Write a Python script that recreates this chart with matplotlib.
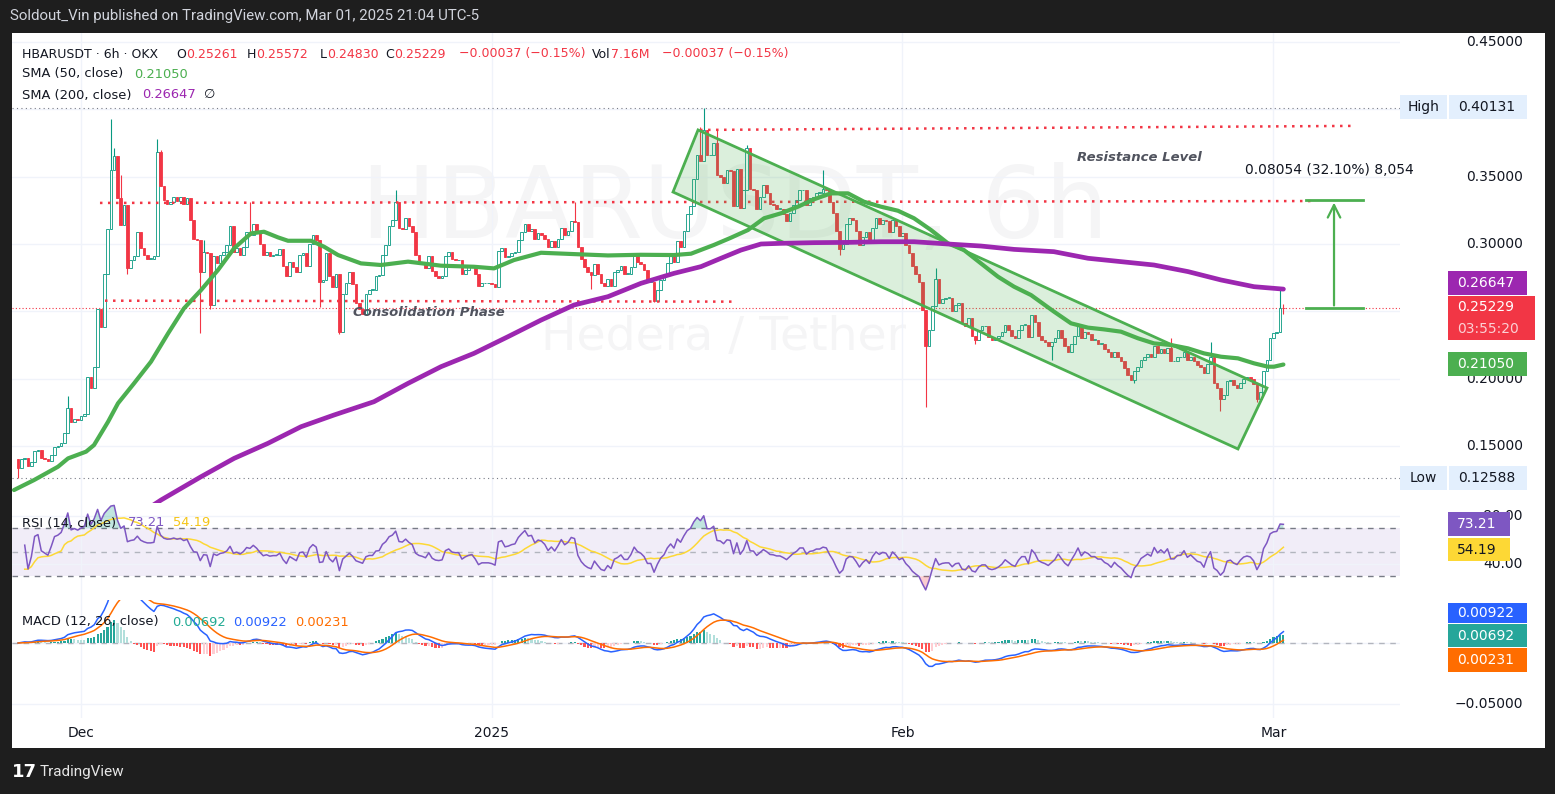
import numpy as np
import pandas as pd
import matplotlib
matplotlib.use("Agg")
import matplotlib.pyplot as plt
from matplotlib.patches import Rectangle, Polygon

plt.rcParams['font.family'] = ['DejaVu Sans']

W, H, DPI = 1555, 794, 100

# ------------------------------------------------------------------ data
# 6h closes, HBAR/USDT (OKX), oldest -> newest
closes_nov_dec = [
    0.134, 0.140, 0.141, 0.135, 0.138, 0.146, 0.147, 0.141, 0.140, 0.139,
    0.143, 0.149, 0.150, 0.152, 0.160, 0.178, 0.168, 0.170, 0.169, 0.172,
    0.174, 0.201, 0.193, 0.209, 0.252, 0.238, 0.278, 0.311, 0.355, 0.365,
    0.334, 0.314, 0.329, 0.282, 0.288, 0.291, 0.309, 0.297, 0.292, 0.289,
    0.289, 0.291, 0.368, 0.343, 0.333, 0.330, 0.331, 0.335, 0.332, 0.335,
    0.330, 0.334, 0.318, 0.304, 0.303, 0.279, 0.294, 0.293, 0.255, 0.291,
    0.286, 0.292, 0.294, 0.299, 0.313, 0.294, 0.297, 0.292, 0.298, 0.309,
    0.307, 0.315, 0.309, 0.300, 0.292, 0.294, 0.291, 0.292, 0.292, 0.296,
    0.284, 0.276, 0.287, 0.283, 0.279, 0.292, 0.293, 0.284, 0.300, 0.307,
    0.303, 0.272, 0.273, 0.293, 0.276, 0.268, 0.278, 0.235, 0.263, 0.271,
    0.279, 0.270, 0.256, 0.252, 0.248]
closes_dec_jan = [
    0.263, 0.266, 0.266, 0.276, 0.277, 0.292, 0.299, 0.313, 0.318, 0.331,
    0.312, 0.311, 0.319, 0.313, 0.309, 0.292, 0.287, 0.285, 0.282, 0.291,
    0.280, 0.276, 0.275, 0.276, 0.291, 0.294, 0.289, 0.288, 0.288, 0.278,
    0.281, 0.283, 0.284, 0.278, 0.269, 0.271, 0.271, 0.271, 0.270, 0.268,
    0.295, 0.297, 0.290, 0.291, 0.293, 0.294, 0.303, 0.309, 0.315, 0.310,
    0.311, 0.304, 0.308, 0.307, 0.304, 0.298, 0.302, 0.298, 0.304, 0.312,
    0.307, 0.310, 0.317, 0.316, 0.298, 0.289, 0.283, 0.279, 0.277, 0.285,
    0.278, 0.271, 0.269, 0.274, 0.269, 0.279, 0.281, 0.284, 0.278, 0.278,
    0.283, 0.292, 0.287, 0.285, 0.281, 0.272, 0.272, 0.258, 0.266, 0.273,
    0.277, 0.286, 0.292, 0.287, 0.302, 0.298, 0.310, 0.322, 0.328, 0.348,
    0.366, 0.362]
closes_jan_feb = [
    0.385, 0.366, 0.366, 0.375, 0.351, 0.350, 0.345, 0.355, 0.354, 0.328,
    0.356, 0.327, 0.340, 0.371, 0.341, 0.340, 0.326, 0.335, 0.344, 0.338,
    0.330, 0.329, 0.326, 0.326, 0.322, 0.317, 0.323, 0.329, 0.333, 0.340,
    0.340, 0.329, 0.334, 0.335, 0.338, 0.338, 0.341, 0.340, 0.331, 0.323,
    0.310, 0.296, 0.300, 0.315, 0.319, 0.318, 0.310, 0.299, 0.305, 0.309,
    0.302, 0.312, 0.319, 0.315, 0.318, 0.317, 0.309, 0.318, 0.313, 0.306,
    0.308, 0.299, 0.293, 0.284, 0.278, 0.272, 0.251, 0.224, 0.236, 0.254,
    0.274, 0.256, 0.259, 0.260, 0.260, 0.250, 0.255, 0.256, 0.241, 0.239,
    0.245, 0.232, 0.229, 0.236, 0.239, 0.239, 0.231, 0.229, 0.230, 0.232,
    0.235, 0.240, 0.236, 0.232, 0.230, 0.236, 0.240, 0.240, 0.231, 0.247,
    0.242, 0.232]
closes_feb_mar = [
    0.229, 0.227, 0.224, 0.227, 0.230, 0.236, 0.230, 0.224, 0.220, 0.226,
    0.232, 0.240, 0.230, 0.235, 0.233, 0.229, 0.229, 0.226, 0.226, 0.222,
    0.220, 0.216, 0.220, 0.216, 0.213, 0.208, 0.203, 0.199, 0.206, 0.209,
    0.214, 0.216, 0.218, 0.216, 0.224, 0.219, 0.222, 0.219, 0.223, 0.213,
    0.213, 0.216, 0.216, 0.220, 0.214, 0.216, 0.213, 0.210, 0.209, 0.204,
    0.211, 0.216, 0.197, 0.193, 0.185, 0.188, 0.198, 0.199, 0.195, 0.193,
    0.197, 0.200, 0.201, 0.200, 0.196, 0.185, 0.190, 0.206, 0.214, 0.230,
    0.234, 0.235, 0.2526, 0.25229]
first_open = 0.140
last_bar_time = "2025-03-01 18:00"
# notable wick extremes (bar index -> price)
wick_highs = {15: 0.187, 28: 0.393, 29: 0.371, 31: 0.351, 42: 0.378, 43: 0.370,
              56: 0.303, 70: 0.331, 114: 0.340, 168: 0.331, 206: 0.387,
              207: 0.40131, 211: 0.385, 220: 0.3735, 243: 0.355, 277: 0.282,
              348: 0.230, 360: 0.227, 381: 0.2658, 382: 0.25572}
wick_lows = {0: 0.12588, 33: 0.278, 55: 0.234, 58: 0.252, 91: 0.2535, 97: 0.233,
             173: 0.2663, 192: 0.2571, 248: 0.292, 274: 0.179, 289: 0.226,
             312: 0.214, 337: 0.197, 363: 0.176, 374: 0.183, 382: 0.2483}

# moving averages (days since 2024-12-01, price)
sma50_days = [-5.06, -3.55, -1.74, -0.98, 0.38, 0.98, 2.04, 2.79, 4.0, 5.28,
              6.57, 7.77, 9.06, 10.34, 11.55, 12.83, 13.81, 14.87, 15.62, 17.36,
              18.34, 19.4, 21.13, 22.64, 24.68, 27.17, 29.66, 31.17, 32.68, 34.72,
              37.21, 39.77, 42.26, 44.75, 46.04, 47.77, 49.06, 50.34, 51.55, 52.83,
              54.11, 55.32, 56.6, 57.89, 59.09, 60.38, 61.66, 62.87, 64.15, 65.43,
              66.64, 67.92, 69.21, 70.42, 71.7, 73.43, 74.72, 76.0, 77.21, 78.49,
              79.77, 80.98, 82.26, 83.55, 84.75, 86.04, 87.32, 88.53, 89.58, 90.04, 90.75]
sma50_vals = [0.1173, 0.1247, 0.1346, 0.1408, 0.1458, 0.1507, 0.1680, 0.1817, 0.1965, 0.2126,
              0.2336, 0.2522, 0.2658, 0.2807, 0.2968, 0.3079, 0.3091, 0.3049, 0.3024, 0.3024,
              0.2980, 0.2918, 0.2856, 0.2844, 0.2869, 0.2839, 0.2831, 0.2819, 0.2881, 0.2935,
              0.2925, 0.2915, 0.2920, 0.2918, 0.2928, 0.2993, 0.3047, 0.3104, 0.3191, 0.3228,
              0.3277, 0.3332, 0.3376, 0.3376, 0.3314, 0.3277, 0.3247, 0.3191, 0.3104, 0.3005,
              0.2955, 0.2856, 0.2757, 0.2683, 0.2621, 0.2498, 0.2411, 0.2379, 0.2366, 0.2349,
              0.2300, 0.2262, 0.2250, 0.2225, 0.2188, 0.2163, 0.2151, 0.2114, 0.2089, 0.2089, 0.2105]
sma200_days = [5.28, 6.04, 9.06, 11.55, 14.11, 16.6, 19.09, 22.11, 24.68, 27.17,
               29.66, 32.23, 34.72, 37.21, 39.77, 42.26, 44.75, 46.79, 48.3, 49.81,
               51.32, 52.83, 55.32, 57.89, 60.38, 62.87, 65.43, 67.92, 70.42, 73.43,
               76.0, 78.49, 80.98, 83.55, 86.04, 88.53, 90.75]
sma200_vals = [0.1050, 0.1099, 0.1272, 0.1408, 0.1520, 0.1643, 0.1730, 0.1829, 0.1965, 0.2089,
               0.2188, 0.2312, 0.2435, 0.2547, 0.2609, 0.2708, 0.2782, 0.2832, 0.2894, 0.2955,
               0.3000, 0.3005, 0.3010, 0.3012, 0.3017, 0.3017, 0.3000, 0.2985, 0.2960, 0.2943,
               0.2894, 0.2869, 0.2844, 0.2795, 0.2733, 0.2683, 0.2665]

x_tick_days = [0, 31, 62, 90]
x_tick_labels = ["Dec", "2025", "Feb", "Mar"]
price_ticks = [0.15, 0.20, 0.25, 0.30, 0.35, 0.40, 0.45]
price_ticks_shown = [0.15, 0.20, 0.30, 0.35, 0.45]      # others sit under value tags
rsi_ticks = [40, 80]
macd_ticks = [-0.05, 0.0]
macd_ticks_shown = [-0.05]

# legend / scale values shown by TradingView
last_o, last_h, last_l, last_c = 0.25261, 0.25572, 0.24830, 0.25229
change_txt = "\u22120.00037 (\u22120.15%)"
vol_txt = "7.16M"
sma50_last, sma200_last = 0.21050, 0.26647
rsi_last, rsi_ma_last = 73.21, 54.19
macd_hist_last, macd_last, macd_sig_last = 0.00692, 0.00922, 0.00231
range_high, range_low = 0.40131, 0.12588
countdown = "03:55:20"

# drawings
channel_pts = [(44.68, 0.3386), (46.57, 0.3847), (89.51, 0.1931), (87.32, 0.1478)]
res_top = [(46.72, 0.3847), (96.0, 0.3877)]
res_mid = [(1.43, 0.3305), (92.9, 0.3319)]
sup_low = [(1.81, 0.2579), (49.51, 0.2572)]
measure_from, measure_delta, measure_pct, measure_ticks = 0.25229, 0.08054, 32.10, 8054
measure_x, measure_x0, measure_x1 = 94.57, 92.45, 96.75

# ------------------------------------------------------------------ colours
UP, DOWN = '#089981', '#f23645'
BLK = '#131722'
GREEN, PURPLE = '#4caf50', '#9c27b0'
RSI_C, RSI_MA_C = '#7e57c2', '#fdd835'
MACD_C, SIG_C = '#2962ff', '#ff6d00'

# ------------------------------------------------------------------ derived series
closes = np.array(closes_nov_dec + closes_dec_jan + closes_jan_feb + closes_feb_mar)
n = len(closes)
times = pd.date_range(end=last_bar_time, periods=n, freq="6h")
days = ((times - pd.Timestamp("2024-12-01")) / pd.Timedelta(days=1)).values.astype(float)
opens = np.r_[first_open, closes[:-1]]
opens[-1] = last_o
highs = np.maximum(opens, closes)
lows = np.minimum(opens, closes)
for k, v in wick_highs.items():
    highs[k] = max(highs[k], v)
for k, v in wick_lows.items():
    lows[k] = min(lows[k], v)

cs = pd.Series(closes)
delta = cs.diff().fillna(closes[0] - first_open)
gain = delta.clip(lower=0).ewm(alpha=1/14, adjust=True).mean()
loss = (-delta).clip(lower=0).ewm(alpha=1/14, adjust=True).mean()
rsi = (100 - 100 / (1 + gain / loss.replace(0, np.nan))).fillna(50).values
rsi_ma = pd.Series(rsi).rolling(14, min_periods=1).mean().values
macd = (cs.ewm(span=12, adjust=False).mean() - cs.ewm(span=26, adjust=False).mean()).values
sig = pd.Series(macd).ewm(span=9, adjust=False).mean().values
hist = macd - sig

# ------------------------------------------------------------------ figure
fig = plt.figure(figsize=(W / DPI, H / DPI), dpi=DPI)
fig.patch.set_facecolor('#1e1e1e')
fig.add_artist(Rectangle((12 / W, 1 - 748 / H), (1545 - 12) / W, (748 - 33) / H,
                         transform=fig.transFigure, facecolor='white',
                         edgecolor='none', zorder=-10))


def rect(x0, y0, x1, y1):
    return [x0 / W, 1 - y1 / H, (x1 - x0) / W, (y1 - y0) / H]


ax_p = fig.add_axes(rect(12, 33, 1400, 503))
ax_r = fig.add_axes(rect(12, 503, 1400, 600))
ax_m = fig.add_axes(rect(12, 600, 1400, 718))
XL = (-5.21, 99.55)
for ax in (ax_p, ax_r, ax_m):
    ax.set_xlim(XL)
    ax.set_facecolor('none')
    for s in ax.spines.values():
        s.set_visible(False)
    ax.set_xticks(x_tick_days)
    ax.tick_params(left=False, bottom=False, labelleft=False, labelbottom=False)
    ax.grid(True, color='#f0f3fa', lw=1, zorder=0)
    ax.set_axisbelow(True)

ax_p.set_ylim(0.10768, 0.45668)
ax_p.set_yticks(price_ticks)
ax_r.set_ylim(10.25, 91.1)
ax_r.set_yticks(rsi_ticks)
ax_m.set_ylim(-0.06148, 0.03525)
ax_m.set_yticks(macd_ticks)
ax_m.set_xticks(x_tick_days)
ax_m.set_xticklabels(x_tick_labels)
ax_m.tick_params(labelbottom=True, pad=2, labelsize=10, labelcolor=BLK)

# watermarks
ax_p.text(735 / W, 1 - 210 / H, "HBARUSDT, 6h", transform=fig.transFigure,
          fontsize=72, color='#f5f5f6', ha='center', va='center', zorder=0)
ax_p.text(724 / W, 1 - 337 / H, "Hedera / Tether", transform=fig.transFigure,
          fontsize=34, color='#f5f5f6', ha='center', va='center', zorder=0)

# range high / low and last price lines
ax_p.axhline(range_high, color='#787b86', lw=0.8, ls=(0, (1, 3)), zorder=1)
ax_p.axhline(range_low, color='#787b86', lw=0.8, ls=(0, (1, 3)), zorder=1)
ax_p.axhline(last_c, color=DOWN, lw=0.8, ls=(0, (1, 2)), zorder=1)

# candles
up = closes >= opens
col = np.where(up, UP, DOWN)
ax_p.vlines(days, lows, highs, colors=col, lw=0.8, zorder=2)
body_lo = np.minimum(opens, closes)
body_h = np.maximum(np.abs(closes - opens), 0.0004)
ax_p.bar(days[up], body_h[up], bottom=body_lo[up], width=0.2, facecolor='white',
         edgecolor=UP, lw=0.6, zorder=3)
ax_p.bar(days[~up], body_h[~up], bottom=body_lo[~up], width=0.2, facecolor=DOWN,
         edgecolor=DOWN, lw=0.6, zorder=3)

# dotted red levels
for seg in (res_top, res_mid, sup_low):
    ax_p.plot([seg[0][0], seg[1][0]], [seg[0][1], seg[1][1]], color=DOWN, lw=1.8,
              ls=(0, (1, 2.2)), zorder=4)

# channel
ax_p.add_patch(Polygon(channel_pts, closed=True, facecolor=(76/255, 175/255, 80/255, 0.2),
                       edgecolor=GREEN, lw=2, zorder=5))

# moving averages
ax_p.plot(sma50_days, sma50_vals, color=GREEN, lw=3.0, zorder=6,
          solid_capstyle='round', solid_joinstyle='round')
ax_p.plot(sma200_days, sma200_vals, color=PURPLE, lw=3.4, zorder=6,
          solid_capstyle='round', solid_joinstyle='round')

# measurement
m_top = measure_from + measure_delta
ax_p.plot([measure_x0, measure_x1], [m_top, m_top], color=GREEN, lw=2, zorder=7)
ax_p.plot([measure_x0, measure_x1], [measure_from, measure_from], color=GREEN, lw=2, zorder=7)
ax_p.annotate('', xy=(measure_x, m_top), xytext=(measure_x, measure_from),
              arrowprops=dict(arrowstyle='->,head_length=0.9,head_width=0.45',
                              color=GREEN, lw=1.6), zorder=7)
ax_p.text(87.85, 0.355, f"{measure_delta:.5f} ({measure_pct:.2f}%) {measure_ticks:,}",
          fontsize=10, color=BLK, ha='left', va='center', zorder=8)
ax_p.text(75.17, 0.3639, "Resistance Level", fontsize=9.5, color='#50535e',
          style='italic', weight='bold', ha='left', va='center', zorder=8)
ax_p.text(20.53, 0.2495, "Consolidation Phase", fontsize=9.5, color='#50535e',
          style='italic', weight='bold', ha='left', va='center', zorder=8)

# RSI
s0 = 2
ax_r.axhspan(30, 70, color=(126/255, 87/255, 194/255, 0.1), lw=0, zorder=0.5)
ax_r.axhline(70, color='#787b86', lw=1, ls=(0, (4, 4)), zorder=1)
ax_r.axhline(30, color='#787b86', lw=1, ls=(0, (4, 4)), zorder=1)
ax_r.axhline(50, color='#b2b5be', lw=1, ls=(0, (4, 4)), zorder=1)
ax_r.fill_between(days[s0:], 70, rsi[s0:], where=rsi[s0:] > 70, interpolate=True,
                  color=(8/255, 153/255, 129/255, 0.25), lw=0, zorder=1.5)
ax_r.fill_between(days[s0:], 30, rsi[s0:], where=rsi[s0:] < 30, interpolate=True,
                  color=(242/255, 54/255, 69/255, 0.25), lw=0, zorder=1.5)
ax_r.plot(days[s0:], rsi_ma[s0:], color=RSI_MA_C, lw=1.1, zorder=2)
ax_r.plot(days[s0:], rsi[s0:], color=RSI_C, lw=1.1, zorder=3)

# MACD
ax_m.axhline(0, color='#b2b5be', lw=1, ls=(0, (4, 4)), zorder=1)
hcol = []
for i, hv in enumerate(hist):
    prev = hist[i - 1] if i else 0
    if hv >= 0:
        hcol.append('#26a69a' if hv >= prev else '#b2dfdb')
    else:
        hcol.append('#ff5252' if hv < prev else '#ffcdd2')
ax_m.bar(days, hist, width=0.16, color=hcol, zorder=2)
ax_m.plot(days, macd, color=MACD_C, lw=1.1, zorder=3)
ax_m.plot(days, sig, color=SIG_C, lw=1.1, zorder=3)

# ------------------------------------------------------------------ right scale


def ypx(ax, v):
    return H - ax.transData.transform((0, v))[1]


def ftext(xp, yp, s, **kw):
    return fig.text(xp / W, 1 - yp / H, s, **kw)


for v in price_ticks_shown:
    ftext(1523, ypx(ax_p, v), f"{v:.5f}", ha='right', va='center', fontsize=10, color=BLK, zorder=5)
for v in rsi_ticks:
    ftext(1523, ypx(ax_r, v), f"{v:.2f}", ha='right', va='center', fontsize=10, color=BLK, zorder=5)
for v in macd_ticks_shown:
    ftext(1523, ypx(ax_m, v), f"{v:.5f}".replace('-', '\u2212'), ha='right', va='center',
          fontsize=10, color=BLK, zorder=5)


def tag(x0, x1, y0, y1, bg, lines, fg='white', center=False):
    fig.add_artist(Rectangle((x0 / W, 1 - y1 / H), (x1 - x0) / W, (y1 - y0) / H,
                             transform=fig.transFigure, facecolor=bg, edgecolor='none', zorder=10))
    nl = len(lines)
    hh = (y1 - y0) / nl
    for j, (s, c) in enumerate(lines):
        yc = y0 + hh * (j + 0.5)
        if center:
            ftext((x0 + x1) / 2, yc, s, ha='center', va='center', fontsize=10, color=c, zorder=11)
        else:
            ftext(x0 + 9, yc, s, ha='left', va='center', fontsize=10, color=c, zorder=11)


LB = '#e3effd'
tag(1400, 1447, 95, 119, LB, [("High", BLK)], center=True)
tag(1449, 1527, 95, 119, LB, [(f"{range_high:.5f}", BLK)])
tag(1400, 1447, 466, 490, LB, [("Low", BLK)], center=True)
tag(1449, 1527, 466, 490, LB, [(f"{range_low:.5f}", BLK)])
tag(1448, 1527, 271, 295, PURPLE, [(f"{sma200_last:.5f}", 'white')])
tag(1448, 1535, 296, 340, DOWN, [(f"{last_c:.5f}", 'white'), (countdown, '#fbd0d4')])
tag(1448, 1527, 352, 376, GREEN, [(f"{sma50_last:.5f}", 'white')])
tag(1448, 1510, 512, 536, RSI_C, [(f"{rsi_last:.2f}", 'white')])
tag(1448, 1510, 538, 561, RSI_MA_C, [(f"{rsi_ma_last:.2f}", BLK)])
tag(1448, 1527, 603, 623, MACD_C, [(f"{macd_last:.5f}", 'white')])
tag(1448, 1527, 624, 647, '#26a69a', [(f"{macd_hist_last:.5f}", 'white')])
tag(1448, 1527, 648, 672, SIG_C, [(f"{macd_sig_last:.5f}", 'white')])

# ------------------------------------------------------------------ legends
renderer = fig.canvas.get_renderer()


def pieces(xp, yp, items, size=9.4):
    x = xp
    for s, c in items:
        t = ftext(x, yp, s, ha='left', va='center', fontsize=size, color=c, zorder=20)
        x += t.get_window_extent(renderer).width
    return x


ftext(10, 16, "Soldout_Vin published on TradingView.com, Mar 01, 2025 21:04 UTC-5",
      ha='left', va='center', fontsize=10.8, family='Roboto', color='#d1d4dc')
L1 = 9.0
pieces(22, 54, [("HBARUSDT \u00b7 6h \u00b7 OKX", BLK)], L1)
pieces(176, 54, [("O", BLK), (f"{last_o:.5f}", DOWN)], L1)
pieces(247, 54, [("H", BLK), (f"{last_h:.5f}", DOWN)], L1)
pieces(320, 54, [("L", BLK), (f"{last_l:.5f}", DOWN)], L1)
pieces(385, 54, [("C", BLK), (f"{last_c:.5f}", DOWN)], L1)
pieces(459, 54, [(change_txt, DOWN)], L1)
pieces(592, 54, [("Vol", BLK), (vol_txt, DOWN)], L1)
pieces(662, 54, [(change_txt, DOWN)], L1)
pieces(22, 74, [("SMA (50, close)", BLK)])
pieces(134, 74, [(f"{sma50_last:.5f}", GREEN)])
pieces(22, 95, [("SMA (200, close)", BLK)])
pieces(142, 95, [(f"{sma200_last:.5f}", PURPLE)])
pieces(204, 95, [("\u2205", BLK)])
pieces(22, 523, [("RSI (14, close)", BLK)])
pieces(128, 523, [(f"{rsi_last:.2f}", RSI_C)])
pieces(173, 523, [(f"{rsi_ma_last:.2f}", '#f5c518')])
pieces(22, 622, [("MACD (12, 26, close)", BLK)])
pieces(172, 622, [(f"{macd_hist_last:.5f}", '#22ab94')])
pieces(233, 622, [(f"{macd_last:.5f}", MACD_C)])
pieces(295, 622, [(f"{macd_sig_last:.5f}", SIG_C)])

# footer logo
ftext(12, 772, "17", ha='left', va='center', fontsize=13, weight='bold', color='white')
ftext(40, 772, "TradingView", ha='left', va='center', fontsize=11, family='Roboto', color='#e6e6e6')

fig.savefig("out.png", dpi=DPI, facecolor=fig.get_facecolor())
